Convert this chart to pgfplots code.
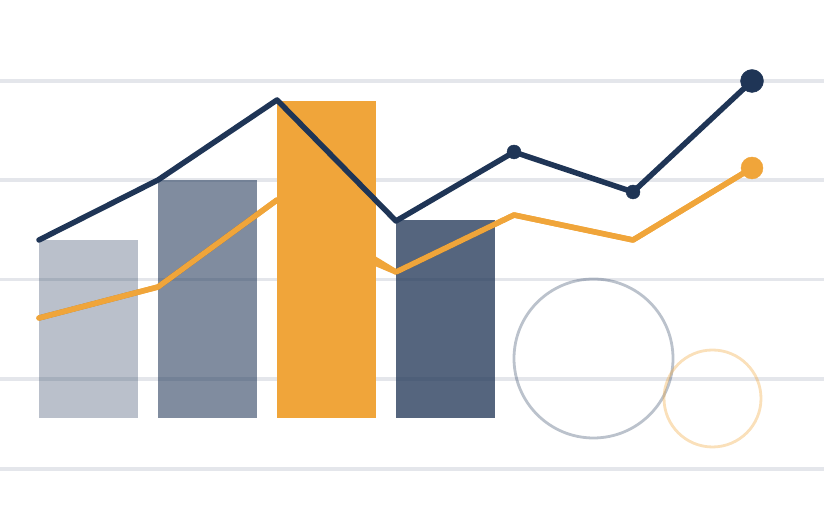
\documentclass[border=0pt]{standalone}
\usepackage{pgfplots}
\pgfplotsset{compat=1.18}
\definecolor{navy}{HTML}{1F3556}
\definecolor{orng}{HTML}{F0A53A}
\definecolor{gridc}{HTML}{E4E6EB}
\begin{document}
\begin{tikzpicture}
\begin{axis}[
  width=824bp, height=520bp, scale only axis,
  xmin=0, xmax=824, ymin=0, ymax=520,
  axis line style={draw=none},
  xtick=\empty,
  ytick={51,141,240.5,340,439},
  yticklabels={},
  major tick length=0pt,
  ymajorgrids,
  grid style={gridc, line width=3.5bp},
  clip=false,
]
% decorative circles
\addplot[only marks, mark=o, mark size=79.5bp, navy, mark options={draw opacity=0.3, line width=2.8bp}] coordinates {(593.5,161.5)};
\addplot[only marks, mark=o, mark size=48.5bp, orng, mark options={draw opacity=0.35, line width=2.8bp}] coordinates {(712.5,121.5)};
% orange line (passes behind the orange bar)
\addplot[orng, line width=5.5bp, line join=round, line cap=round, mark=none] coordinates {
(39,202) (158,233) (277,320) (396,248) (514,305) (633,280) (752,352)};
% bars
\addplot[draw=none, fill=navy, fill opacity=0.31] coordinates {(39,102) (138,102) (138,280) (39,280)} -- cycle;
\addplot[draw=none, fill=navy, fill opacity=0.57] coordinates {(158,102) (257,102) (257,340) (158,340)} -- cycle;
\addplot[draw=none, fill=orng] coordinates {(277,102) (376,102) (376,419) (277,419)} -- cycle;
\addplot[draw=none, fill=navy, fill opacity=0.76] coordinates {(396,102) (495,102) (495,300) (396,300)} -- cycle;
% orange line again over the navy bars
\addplot[orng, line width=5.5bp, line join=round, line cap=round, mark=none] coordinates {
(39,202) (158,233) (277,320)};
\addplot[orng, line width=5.5bp, line join=round, line cap=round, mark=none] coordinates {
(376,256.5) (396,248) (514,305) (633,280) (752,352)};
\addplot[orng, only marks, mark=*, mark size=11bp] coordinates {(752,352)};
% navy line
\addplot[navy, line width=5.5bp, line join=round, line cap=round, mark=none] coordinates {
(39,280) (158,340) (277,420) (396,299) (514,368) (633,328) (752,439)};
\addplot[navy, only marks, mark=*, mark size=7bp] coordinates {(514,368) (633,328)};
\addplot[navy, only marks, mark=*, mark size=11.5bp] coordinates {(752,439)};
\end{axis}
\pgfresetboundingbox
\useasboundingbox (current axis.south west) rectangle (current axis.north east);
\end{tikzpicture}
\end{document}
